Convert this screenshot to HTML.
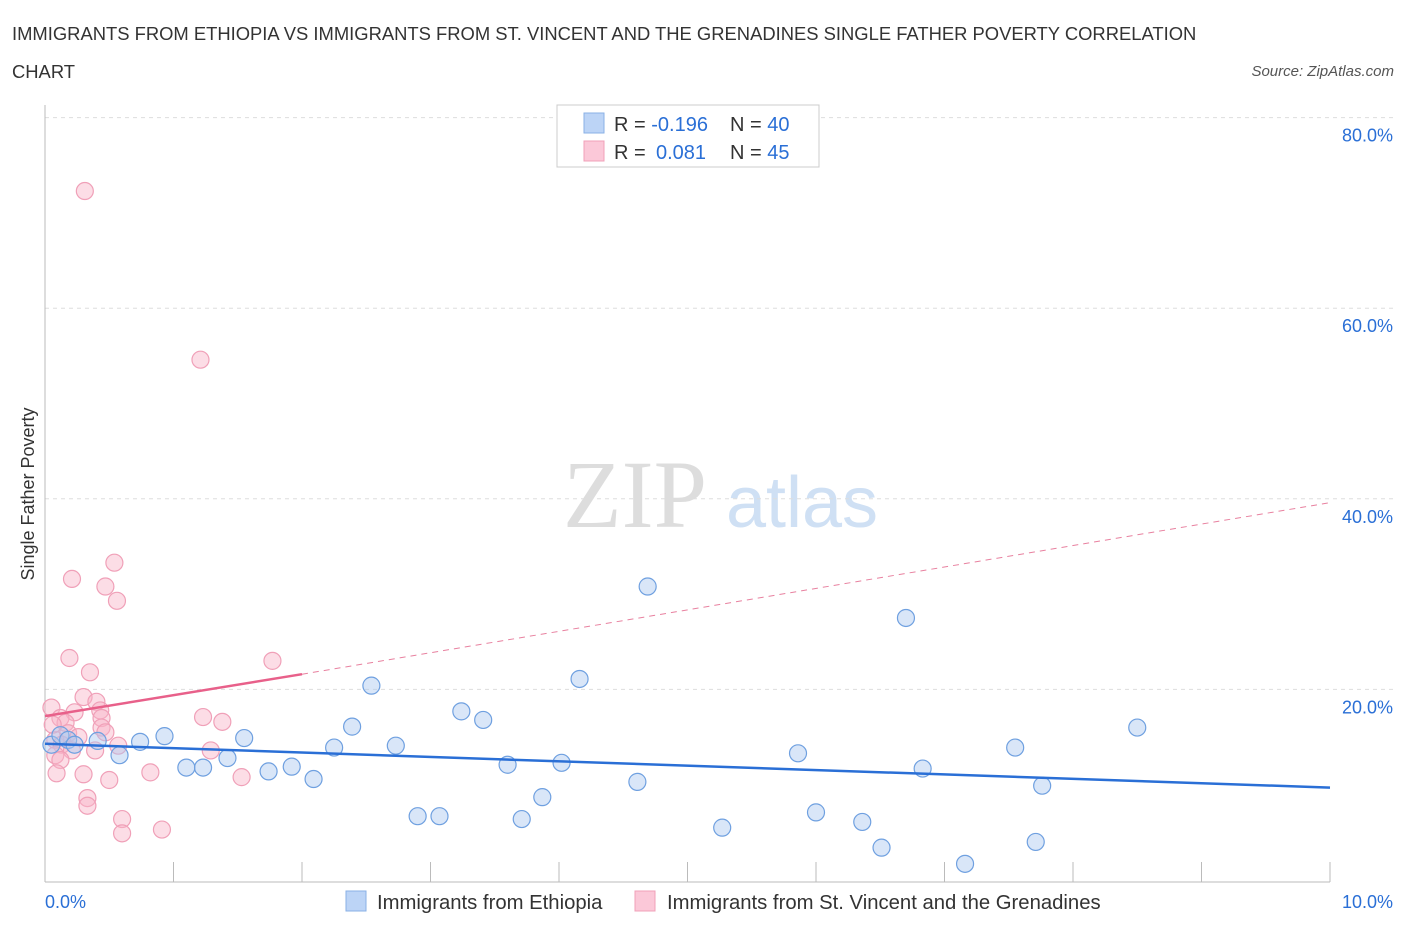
<!DOCTYPE html>
<html><head><meta charset="utf-8"><style>
body{margin:0;background:#fff;font-family:"Liberation Sans",sans-serif;}
</style></head><body>
<svg id="c" width="1406" height="930" xmlns="http://www.w3.org/2000/svg" style="font-family:'Liberation Sans',sans-serif">
<text x="12" y="40" font-size="18.4" fill="#333">IMMIGRANTS FROM ETHIOPIA VS IMMIGRANTS FROM ST. VINCENT AND THE GRENADINES SINGLE FATHER POVERTY CORRELATION</text>
<text x="12" y="78" font-size="18.4" fill="#333">CHART</text>
<text x="1394" y="76" font-size="15" fill="#555" font-style="italic" text-anchor="end">Source: ZipAtlas.com</text>
<text x="34" y="494" font-size="18" fill="#333" text-anchor="middle" transform="rotate(-90 34 494)">Single Father Poverty</text>
<g>
<text x="635" y="527" font-size="96" fill="#ddd" font-family="Liberation Serif" text-anchor="middle">ZIP</text>
<text x="802" y="527" font-size="72" fill="#cfe0f4" text-anchor="middle">atlas</text>
</g>
<g id="grid"></g><g id="axes"></g><g id="marks"></g>
<g>
<rect x="557" y="105" width="262" height="62" fill="#fff" stroke="#ccc"/>
<rect x="584" y="113" width="20" height="20" fill="#bcd4f6" stroke="#8ab0e6"/>
<rect x="584" y="141" width="20" height="20" fill="#fbc8d8" stroke="#f0a0b8"/>
<text x="614" y="131" font-size="20" fill="#333">R = <tspan fill="#2a6fd6">-0.196</tspan><tspan x="730">N = </tspan><tspan fill="#2a6fd6">40</tspan></text>
<text x="614" y="159" font-size="20" fill="#333">R = <tspan fill="#2a6fd6" x="656">0.081</tspan><tspan x="730">N = </tspan><tspan fill="#2a6fd6">45</tspan></text>
</g>
<g>
<rect x="346" y="891" width="20" height="20" fill="#bcd4f6" stroke="#8ab0e6"/>
<text x="377" y="909" font-size="20.3" fill="#333">Immigrants from Ethiopia</text>
<rect x="635" y="891" width="20" height="20" fill="#fbc8d8" stroke="#f0a0b8"/>
<text x="667" y="909" font-size="20.3" fill="#333">Immigrants from St. Vincent and the Grenadines</text>
</g>
</svg>
<script>
const yTicks=[20,40,60,80];
const yTickLabels=["20.0%","40.0%","60.0%","80.0%"];
const xTickLabels=["0.0%","10.0%"];
const ethX=[0.05,0.12,0.18,0.23,0.41,0.58,0.74,0.93,1.10,1.23,1.42,1.55,1.74,1.92,2.09,2.25,2.39,2.54,2.73,2.90,3.07,3.24,3.41,3.60,3.71,3.87,4.02,4.16,4.61,4.69,5.27,5.86,6.00,6.36,6.51,6.70,6.83,7.16,7.55,7.71,7.76,8.50];
const ethY=[14.3,15.3,14.8,14.3,14.7,13.2,14.6,15.2,11.9,11.9,12.9,15.0,11.5,12.0,10.7,14.0,16.2,20.5,14.2,6.8,6.8,17.8,16.9,12.2,6.5,8.8,12.4,21.2,10.4,30.9,5.6,13.4,7.2,6.2,3.5,27.6,11.8,1.8,14.0,4.1,10.0,16.1];
const vinX=[0.31,1.21,0.54,0.21,0.47,0.56,0.19,1.77,0.35,0.30,0.40,0.05,0.23,0.43,0.12,0.44,1.23,1.38,0.16,0.44,0.47,0.18,0.26,0.08,0.13,0.57,1.29,0.21,0.08,0.12,0.30,0.09,0.82,0.50,1.53,0.33,0.33,0.60,0.60,0.91,0.06,0.39];
const vinY=[72.4,54.7,33.4,31.7,30.9,29.4,23.4,23.1,21.9,19.3,18.8,18.2,17.7,17.9,17.1,17.1,17.2,16.7,16.6,16.1,15.6,15.5,15.1,14.8,14.3,14.2,13.7,13.7,13.2,12.7,11.2,11.3,11.4,10.6,10.9,8.7,7.9,6.5,5.0,5.4,16.4,13.7];
const ethTrend=[14.4,9.8];
const vinTrend=[17.3,21.7,39.7];
const NS="http://www.w3.org/2000/svg";
const X=v=>45+v*128.5, Y=v=>881-v*9.53;
function mk(tag,attrs,parent){const e=document.createElementNS(NS,tag);for(const k in attrs)e.setAttribute(k,attrs[k]);document.getElementById(parent).appendChild(e);return e;}
yTicks.forEach((t,i)=>{
 const g=mk('line',{x1:45,x2:1395,y1:Y(t)-1,y2:Y(t)-1,stroke:'#ddd','stroke-dasharray':'4 4'},'grid');
 
 
 const l=mk('text',{x:1393,y:Y(t)+23,'font-size':18,fill:'#2a6fd6','text-anchor':'end'},'axes');
 l.textContent=yTickLabels[i];
 
 
});
const a1=mk('line',{x1:45,x2:45,y1:105,y2:882,stroke:'#bbb'},'axes');


const a2=mk('line',{x1:45,x2:1330,y1:882,y2:882,stroke:'#bbb'},'axes');


for(let i=0;i<=10;i++){
 const t=mk('line',{x1:X(i),x2:X(i),y1:862,y2:882,stroke:'#bbb'},'axes');
 
 
}
[[0,'start',45],[1,'end',1393]].forEach(([i,anc,x])=>{
 const l=mk('text',{x:x,y:908,'font-size':18,fill:'#2a6fd6','text-anchor':anc},'axes');
 l.textContent=xTickLabels[i];
 
 
});
vinX.forEach((x,i)=>{
 const c=mk('circle',{cx:X(x),cy:Y(vinY[i]),r:8.5,fill:'rgba(248,180,200,0.45)',stroke:'#f0a0b8','stroke-width':1.2},'marks');
 
 
});
ethX.forEach((x,i)=>{
 const c=mk('circle',{cx:X(x),cy:Y(ethY[i]),r:8.5,fill:'rgba(170,200,240,0.45)',stroke:'#6fa0e0','stroke-width':1.2},'marks');
 
 
});
const t1=mk('line',{x1:X(0),y1:Y(ethTrend[0]),x2:X(10),y2:Y(ethTrend[1]),stroke:'#2a6fd6','stroke-width':2.5},'marks');


const t2=mk('line',{x1:X(0),y1:Y(vinTrend[0]),x2:X(2),y2:Y(vinTrend[1]),stroke:'#e8608a','stroke-width':2.5},'marks');


const t3=mk('line',{x1:X(2),y1:Y(vinTrend[1]),x2:X(10),y2:Y(vinTrend[2]),stroke:'#e8809f','stroke-width':1,'stroke-dasharray':'6 5'},'marks');


</script>
</body></html>
